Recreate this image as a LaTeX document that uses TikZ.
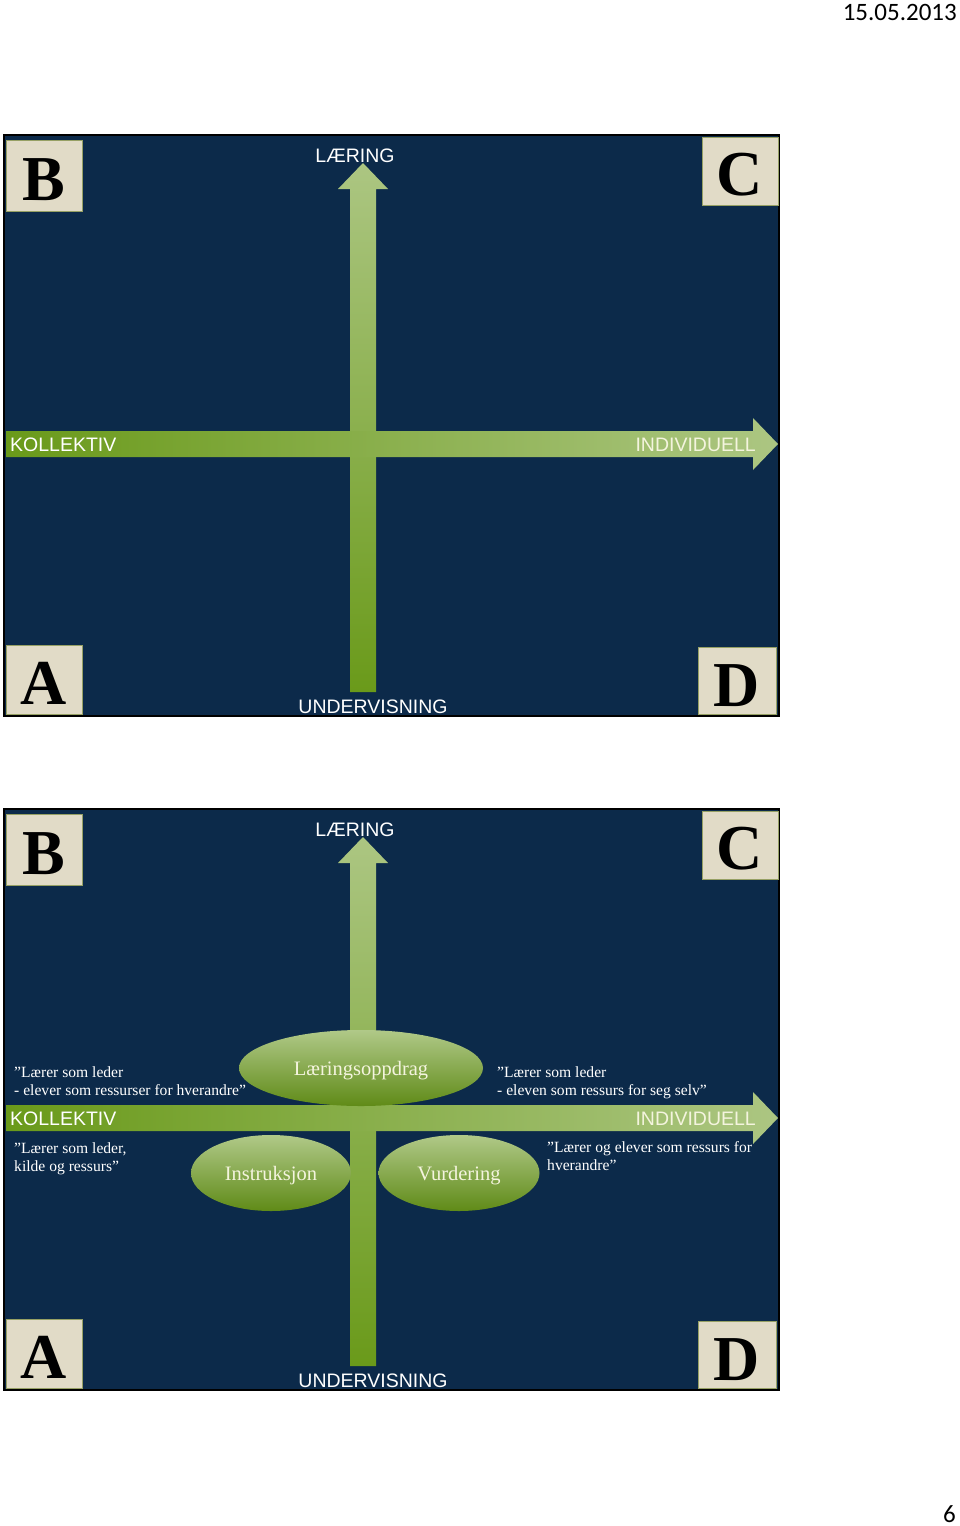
\documentclass[tikz,border=0pt]{standalone}
\usepackage{fontspec}
\setmainfont{Liberation Serif}
\newfontfamily\arialf{Liberation Sans}
\newfontfamily\calib{Carlito}
\usetikzlibrary{shapes.geometric}
\definecolor{navy}{RGB}{12,42,74}
\definecolor{glight}{RGB}{172,198,130}
\definecolor{gdark}{RGB}{106,154,26}
\definecolor{beige}{RGB}{225,219,199}
\definecolor{boxedge}{RGB}{150,160,100}
\definecolor{cream}{RGB}{244,244,222}
\tikzset{
  panelbox/.style={fill=navy, draw=black, line width=2pt},
  letterbox/.style={fill=beige, draw=boxedge, line width=1pt},
  bigletter/.style={font=\fontsize{64}{64}\selectfont\bfseries, text=black, inner sep=0pt, anchor=base},
  axislabel/.style={font=\arialf\fontsize{19.5}{20}\selectfont, text=white, inner sep=0pt},
  quote/.style={font=\fontsize{15.6}{18}\selectfont, text=white, inner sep=0pt, align=left, anchor=north west},
  oval/.style={ellipse, inner sep=0pt, top color=glight!95!white, bottom color=gdark!90!black, draw=none,
    font=\fontsize{20.5}{22}\selectfont, text=cream, text height=14pt, text depth=0pt},
  pagetext/.style={font=\calib\fontsize{25}{25}\selectfont, text=black, inner sep=0pt}
}
\begin{document}
\begin{tikzpicture}[x=1pt,y=-1pt]
\useasboundingbox (0,0) rectangle (960,1526);
\node[pagetext, anchor=base east] (date) at (957,20) {15.05.2013};
\node[pagetext, anchor=base east] (pnum) at (956,1522) {6};
\foreach \oy/\k in {0/1,674/2}{
\begin{scope}[shift={(0,\oy)}]
  \path[panelbox] (4,135) rectangle (779,716);
  % vertical arrow
  \path[top color=glight, bottom color=gdark] (350,692) -- (350,189) -- (338,189) -- (363,163) -- (388,189) -- (376,189) -- (376,692) -- cycle;
  % horizontal arrow
  \path[left color=gdark, right color=glight] (6,431) -- (753,431) -- (753,418) -- (778,444) -- (753,470) -- (753,457) -- (6,457) -- cycle;
  % letter boxes
  \path[letterbox] (6,140) rectangle (82,211);
  \path[letterbox] (702,137) rectangle (778,205);
  \path[letterbox] (6,645) rectangle (82,714);
  \path[letterbox] (698,647) rectangle (776,714);
  \node[bigletter] (B\k) at (44,200) {B};
  \node[bigletter] (C\k) at (740,195) {C};
  \node[bigletter] (A\k) at (44,704) {A};
  \node[bigletter] (D\k) at (737,706) {D};
  % axis labels
  \node[axislabel, anchor=base] (laering\k) at (355,162) {LÆRING};
  \node[axislabel, anchor=base west] (koll\k) at (10,451) {KOLLEKTIV};
  \node[axislabel, anchor=base east, text=cream] (indiv\k) at (756,451) {INDIVIDUELL};
  \node[axislabel, anchor=base] (underv\k) at (373,713) {UNDERVISNING};
\end{scope}
}
% second panel content
\node[oval, minimum width=244pt, minimum height=76pt] (lo) at (361,1068) {Læringsoppdrag};
\node[oval, minimum width=160pt, minimum height=76pt] (ins) at (271,1173) {Instruksjon};
\node[oval, minimum width=161pt, minimum height=76pt] (vur) at (459,1173) {Vurdering};
\node[quote] (q1) at (14,1066) {”Lærer som leder\\- elever som ressurser for hverandre”};
\node[quote] (q2) at (497,1066) {”Lærer som leder\\- eleven som ressurs for seg selv”};
\node[quote] (q3) at (14,1142) {”Lærer som leder,\\kilde og ressurs”};
\node[quote] (q4) at (547,1141) {”Lærer og elever som ressurs for\\hverandre”};
\end{tikzpicture}
\end{document}
